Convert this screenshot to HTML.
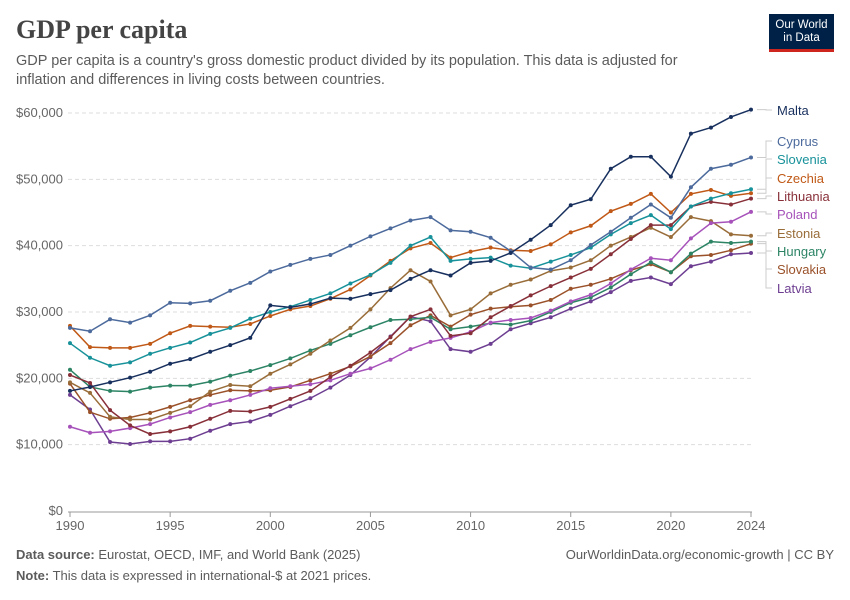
<!DOCTYPE html>
<html><head><meta charset="utf-8"><style>
body{margin:0;background:#fff;font-family:"Liberation Sans",sans-serif;}
#wrap{position:relative;width:850px;height:600px;overflow:hidden}
.t{position:absolute;white-space:nowrap}
</style></head><body>
<div id="wrap">
<div class="t" style="left:16px;top:15px;font-family:'Liberation Serif',serif;font-size:26px;font-weight:bold;color:#444">GDP per capita</div>
<div class="t" style="left:16px;top:52px;font-size:14.5px;line-height:18.5px;color:#5b5b5b">GDP per capita is a country's gross domestic product divided by its population. This data is adjusted for<br>inflation and differences in living costs between countries.</div>
<div style="position:absolute;left:769px;top:14px;width:65px;height:38px;background:#002147;border-bottom:3px solid #ce261e;box-sizing:border-box;color:#fff;font-size:11.5px;line-height:13px;text-align:center;padding-top:5px">Our World<br>in Data</div>
<svg id="chart" width="850" height="600" style="position:absolute;left:0;top:0"></svg>
<div class="t" style="left:16px;top:547px;font-size:13px;color:#5b5b5b"><b>Data source:</b> Eurostat, OECD, IMF, and World Bank (2025)</div>
<div class="t" style="left:16px;top:568px;font-size:13px;color:#5b5b5b"><b>Note:</b> This data is expressed in international-$ at 2021 prices.</div>
<div class="t" style="right:16px;top:547px;font-size:13px;color:#5b5b5b">OurWorldinData.org/economic-growth | CC BY</div>
</div>
<script>
const years=[];for(let y=1990;y<=2024;y++)years.push(y);
const yTicks=[0,10000,20000,30000,40000,50000,60000];
const xTicks=[1990,1995,2000,2005,2010,2015,2020,2024];
const malta=[18.1,18.7,19.4,20.1,21.0,22.2,22.9,24.0,25.0,26.1,31.0,30.7,31.2,32.1,32.0,32.7,33.3,35.0,36.3,35.5,37.4,37.7,38.9,40.9,43.1,46.1,47.0,51.6,53.4,53.4,50.4,56.9,57.8,59.4,60.5];
const cyprus=[27.6,27.1,28.9,28.4,29.5,31.4,31.3,31.7,33.2,34.4,36.1,37.1,38.0,38.6,40.0,41.4,42.6,43.8,44.3,42.3,42.1,41.2,39.2,36.7,36.4,37.8,40.1,42.1,44.2,46.2,44.2,48.8,51.6,52.2,53.3];
const slovenia=[25.3,23.1,21.9,22.4,23.7,24.6,25.4,26.7,27.6,29.0,30.0,30.8,31.8,32.8,34.3,35.6,37.4,40.0,41.3,37.7,38.0,38.2,37.0,36.6,37.6,38.6,39.7,41.7,43.4,44.6,42.5,45.9,47.1,47.9,48.5];
const czechia=[27.9,24.7,24.6,24.6,25.2,26.8,27.9,27.8,27.7,28.2,29.4,30.4,30.9,32.0,33.4,35.5,37.7,39.6,40.4,38.2,39.1,39.7,39.3,39.2,40.2,42.0,43.0,45.2,46.3,47.8,45.0,47.8,48.4,47.5,47.9];
const lithuania=[20.5,19.3,15.2,12.9,11.6,12.0,12.7,13.9,15.1,15.0,15.7,16.9,18.1,20.2,21.9,23.9,26.2,29.3,30.4,26.4,26.8,29.2,30.9,32.5,33.9,35.2,36.5,38.7,41.0,43.1,43.1,45.9,46.6,46.2,47.1];
const poland=[12.7,11.8,12.0,12.5,13.1,14.1,14.9,16.0,16.7,17.5,18.5,18.8,19.1,19.7,20.7,21.5,22.8,24.4,25.5,26.1,27.0,28.4,28.8,29.1,30.2,31.6,32.6,34.3,36.4,38.1,37.8,41.1,43.4,43.6,45.1];
const estonia=[19.4,17.8,14.2,13.8,13.8,14.8,15.8,18.0,19.0,18.8,20.7,22.1,23.7,25.7,27.6,30.4,33.6,36.3,34.6,29.5,30.4,32.8,34.1,34.9,36.2,36.7,37.8,40.0,41.3,42.7,41.3,44.3,43.7,41.7,41.5];
const hungary=[21.3,18.7,18.1,18.0,18.6,18.9,18.9,19.5,20.4,21.1,22.0,23.0,24.2,25.2,26.5,27.7,28.8,28.9,29.2,27.4,27.8,28.3,28.1,28.7,30.0,31.4,32.2,33.7,35.7,37.5,36.0,38.8,40.6,40.4,40.6];
const slovakia=[19.2,14.9,13.9,14.1,14.8,15.7,16.7,17.5,18.2,18.1,18.2,18.7,19.7,20.7,21.8,23.3,25.3,28.0,29.5,27.8,29.6,30.5,30.8,31.0,31.8,33.5,34.1,35.0,36.3,37.2,36.0,38.4,38.6,39.3,40.3];
const latvia=[17.5,15.3,10.4,10.1,10.5,10.5,10.9,12.1,13.1,13.5,14.5,15.8,17.0,18.6,20.5,23.2,26.3,29.3,28.6,24.4,24.0,25.2,27.4,28.3,29.2,30.5,31.6,33.0,34.7,35.2,34.2,36.9,37.6,38.7,38.9];
const seriesNames=["Malta","Cyprus","Slovenia","Czechia","Lithuania","Poland","Estonia","Hungary","Slovakia","Latvia"];
const seriesData=[malta,cyprus,slovenia,czechia,lithuania,poland,estonia,hungary,slovakia,latvia];
const colors=["#18305e","#4c6a9c","#18929a","#c05917","#883039","#a652ba","#996d39","#2c8465","#9a5129","#6d3e91"];
const labelY=[110,141,159,178,196,214,233,251,269,288];

const svg=document.getElementById('chart');const NS='http://www.w3.org/2000/svg';
const x0=70,x1=751,yb=511,yt=113;
const xs=y=>x0+(y-1990)*(x1-x0)/(2024-1990);
const ys=v=>yb-v*(yb-yt)/60000;
function mk(t,a,p){const e=document.createElementNS(NS,t);for(const k in a)e.setAttribute(k,a[k]);(p||svg).appendChild(e);return e;}
yTicks.forEach(v=>{
  const y=ys(v);
  if(v>0){const g=mk('line',{x1:68,x2:752,y1:y,y2:y,stroke:'#ddd','stroke-dasharray':'4,3'});
  
  }
  const t=mk('text',{x:63,y:y+4,'text-anchor':'end','font-size':13,fill:'#666','font-family':'Liberation Sans'});
  
  
  t.textContent='$'+v.toLocaleString('en-US');
});
const ax=mk('line',{x1:68,x2:752,y1:yb+1,y2:yb+1,stroke:'#999'});


xTicks.forEach(yr=>{
  const x=xs(yr);
  const tk=mk('line',{x1:x,x2:x,y1:yb+1,y2:yb+6,stroke:'#999'});
  
  
  const t=mk('text',{x:x,y:530,'text-anchor':'middle','font-size':13,fill:'#666','font-family':'Liberation Sans'});
  
  
  t.textContent=yr;
});
for(let i=seriesData.length-1;i>=0;i--){
  const d=seriesData[i];const c=colors[i];
  const g=mk('g',{});
  
  
  const pts=d.map((v,j)=>xs(years[j])+','+ys(v*1000)).join(' ');
  mk('polyline',{points:pts,fill:'none',stroke:c,'stroke-width':1.5},g);
  d.forEach((v,j)=>{const p=mk('circle',{cx:xs(years[j]),cy:ys(v*1000),r:2,fill:c},g);
    
    });
  const ey=ys(d[d.length-1]*1000),ly=labelY[i];
  const cn=mk('path',{d:`M757,${ey} H766 V${ly} H772`,fill:'none',stroke:'#ccc'});
  
  
  const t=mk('text',{x:777,y:ly+5,'font-size':13,fill:c,'font-family':'Liberation Sans'});
  
  
  t.textContent=seriesNames[i];
}
</script>
</body></html>
